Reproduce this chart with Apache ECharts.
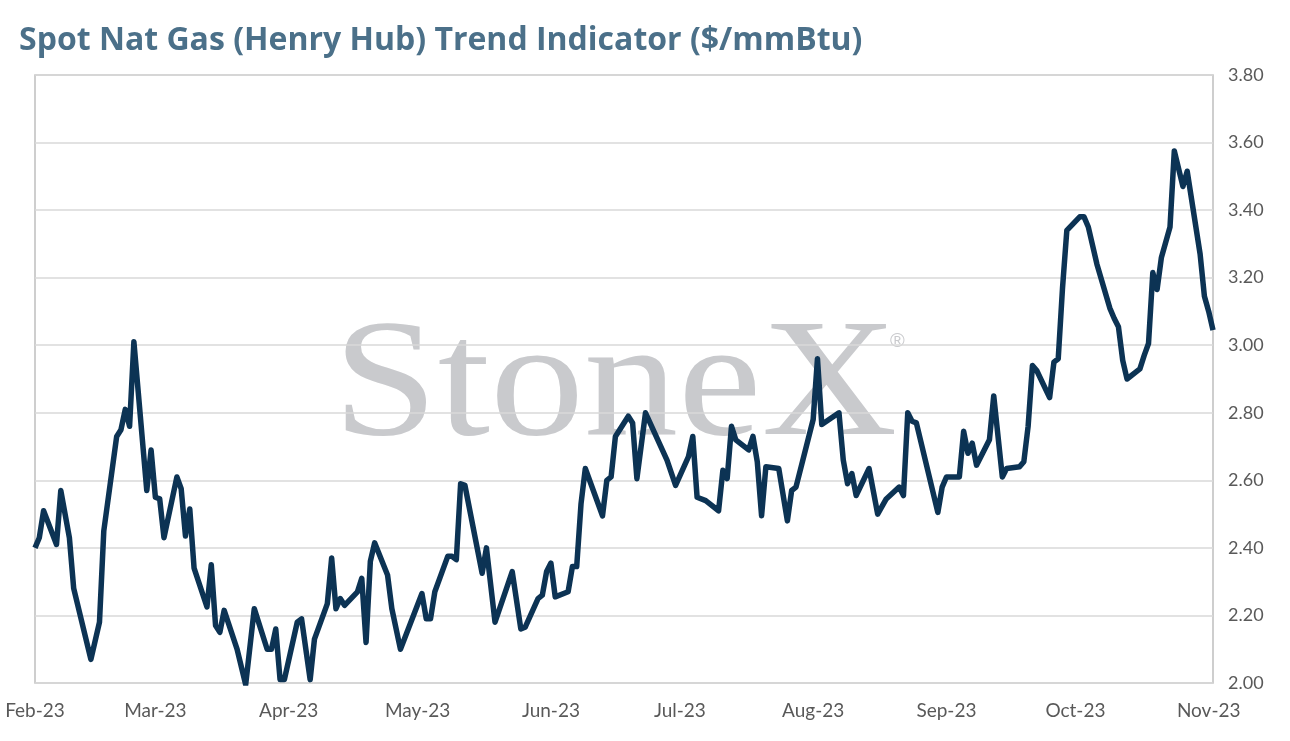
<!DOCTYPE html>
<html>
<head>
<meta charset="utf-8">
<script src="https://cdn.jsdelivr.net/npm/echarts@6/dist/echarts.min.js"></script>
<style>
    html, body { margin: 0; padding: 0; background: #ffffff; }
    #chart { width: 1290px; height: 741px; }
</style>
</head>
<body>
<div id="chart"></div>
<script>
// daily spot prices
const dates = [
    '2023-02-01', '2023-02-02', '2023-02-03', '2023-02-06', '2023-02-07', '2023-02-09', '2023-02-10', '2023-02-14',
    '2023-02-16', '2023-02-17', '2023-02-20', '2023-02-21', '2023-02-22', '2023-02-23', '2023-02-24', '2023-02-27',
    '2023-02-28', '2023-03-01', '2023-03-02', '2023-03-03', '2023-03-06', '2023-03-07', '2023-03-08', '2023-03-09',
    '2023-03-10', '2023-03-13', '2023-03-14', '2023-03-15', '2023-03-16', '2023-03-17', '2023-03-20', '2023-03-22',
    '2023-03-24', '2023-03-27', '2023-03-28', '2023-03-29', '2023-03-30', '2023-03-31', '2023-04-03', '2023-04-04',
    '2023-04-06', '2023-04-07', '2023-04-10', '2023-04-11', '2023-04-12', '2023-04-13', '2023-04-14', '2023-04-17',
    '2023-04-18', '2023-04-19', '2023-04-20', '2023-04-21', '2023-04-24', '2023-04-25', '2023-04-27', '2023-05-02',
    '2023-05-03', '2023-05-04', '2023-05-05', '2023-05-08', '2023-05-09', '2023-05-10', '2023-05-11', '2023-05-12',
    '2023-05-16', '2023-05-17', '2023-05-19', '2023-05-23', '2023-05-25', '2023-05-26', '2023-05-29', '2023-05-30',
    '2023-05-31', '2023-06-01', '2023-06-02', '2023-06-05', '2023-06-06', '2023-06-07', '2023-06-08', '2023-06-09',
    '2023-06-13', '2023-06-14', '2023-06-15', '2023-06-16', '2023-06-19', '2023-06-20', '2023-06-21', '2023-06-23',
    '2023-06-28', '2023-06-30', '2023-07-03', '2023-07-04', '2023-07-05', '2023-07-07', '2023-07-10', '2023-07-11',
    '2023-07-12', '2023-07-13', '2023-07-14', '2023-07-17', '2023-07-18', '2023-07-19', '2023-07-20', '2023-07-21',
    '2023-07-24', '2023-07-26', '2023-07-27', '2023-07-28', '2023-08-01', '2023-08-02', '2023-08-03', '2023-08-07',
    '2023-08-08', '2023-08-09', '2023-08-10', '2023-08-11', '2023-08-14', '2023-08-16', '2023-08-18', '2023-08-21',
    '2023-08-22', '2023-08-23', '2023-08-24', '2023-08-25', '2023-08-30', '2023-08-31', '2023-09-01', '2023-09-04',
    '2023-09-05', '2023-09-06', '2023-09-07', '2023-09-08', '2023-09-11', '2023-09-12', '2023-09-14', '2023-09-15',
    '2023-09-18', '2023-09-19', '2023-09-20', '2023-09-21', '2023-09-22', '2023-09-25', '2023-09-26', '2023-09-27',
    '2023-09-28', '2023-09-29', '2023-10-02', '2023-10-03', '2023-10-04', '2023-10-06', '2023-10-09', '2023-10-10',
    '2023-10-11', '2023-10-12', '2023-10-13', '2023-10-16', '2023-10-17', '2023-10-18', '2023-10-19', '2023-10-20',
    '2023-10-21', '2023-10-23', '2023-10-24', '2023-10-26', '2023-10-27', '2023-10-30', '2023-10-31', '2023-11-01',
    '2023-11-02'
];

const prices = [
    2.40, 2.43, 2.51, 2.41, 2.57, 2.43, 2.28, 2.07,
    2.18, 2.45, 2.73, 2.75, 2.81, 2.76, 3.01, 2.57,
    2.69, 2.55, 2.545, 2.43, 2.61, 2.575, 2.435, 2.515,
    2.34, 2.225, 2.35, 2.17, 2.15, 2.215, 2.10, 1.995,
    2.22, 2.10, 2.10, 2.16, 2.01, 2.01, 2.18, 2.19,
    2.01, 2.13, 2.235, 2.37, 2.22, 2.25, 2.23, 2.27,
    2.31, 2.12, 2.36, 2.415, 2.32, 2.22, 2.10, 2.265,
    2.19, 2.19, 2.27, 2.375, 2.375, 2.365, 2.59, 2.585,
    2.325, 2.40, 2.18, 2.33, 2.16, 2.165, 2.25, 2.26,
    2.33, 2.355, 2.255, 2.27, 2.345, 2.345, 2.53, 2.635,
    2.495, 2.60, 2.61, 2.73, 2.79, 2.77, 2.605, 2.80,
    2.66, 2.585, 2.67, 2.73, 2.55, 2.54, 2.51, 2.63,
    2.605, 2.76, 2.72, 2.69, 2.73, 2.655, 2.495, 2.64,
    2.635, 2.48, 2.57, 2.58, 2.78, 2.96, 2.765, 2.80,
    2.66, 2.59, 2.62, 2.555, 2.635, 2.50, 2.545, 2.58,
    2.555, 2.80, 2.775, 2.77, 2.505, 2.58, 2.61, 2.61,
    2.745, 2.68, 2.71, 2.645, 2.72, 2.85, 2.61, 2.635,
    2.64, 2.655, 2.76, 2.94, 2.925, 2.845, 2.95, 2.96,
    3.17, 3.34, 3.38, 3.38, 3.35, 3.24, 3.11, 3.08,
    3.055, 2.955, 2.90, 2.93, 2.97, 3.005, 3.215, 3.165,
    3.26, 3.35, 3.575, 3.47, 3.515, 3.27, 3.145, 3.10,
    3.045
];

const axisStart = '2023-02-01';
const axisEnd = '2023-11-02';
const monthNames = ['Jan', 'Feb', 'Mar', 'Apr', 'May', 'Jun', 'Jul', 'Aug', 'Sep', 'Oct', 'Nov', 'Dec'];

const chart = echarts.init(document.getElementById('chart'));

const seriesData = dates.map((d, i) => [d, prices[i]]);

chart.setOption({
    animation: false,
    backgroundColor: '#ffffff',
    title: {
        text: 'Spot Nat Gas (Henry Hub) Trend Indicator ($/mmBtu)',
        left: 14,
        top: 20,
        textStyle: {
            fontFamily: 'Open Sans',
            fontWeight: 'bold',
            fontSize: 32,
            color: '#4b7089'
        }
    },
    grid: {
        left: 35,
        right: 77,
        top: 75,
        bottom: 58,
        show: true,
        borderColor: '#bfbfbf',
        borderWidth: 1.5,
        backgroundColor: 'transparent'
    },
    graphic: [
        {
            type: 'text',
            z: -10,
            left: 333,
            top: 306,
            scaleX: 1.12,
            style: {
                text: 'StoneX',
                font: '168px "Liberation Serif"',
                fill: '#c9cacd'
            }
        },
        {
            type: 'text',
            z: -10,
            left: 890,
            top: 331,
            style: {
                text: '®',
                font: '20px "Liberation Sans"',
                fill: '#c9cacd'
            }
        }
    ],
    xAxis: {
        type: 'time',
        min: axisStart,
        max: axisEnd,
        splitNumber: 9,
        minInterval: 28 * 86400000,
        axisLine: { show: false },
        axisTick: { show: false },
        splitLine: { show: false },
        axisLabel: {
            margin: 18,
            fontFamily: 'Lato',
            fontSize: 19,
            color: '#595959',
            formatter: function (value) {
                const d = new Date(value);
                return monthNames[d.getMonth()] + '-' + String(d.getFullYear()).slice(2);
            }
        }
    },
    yAxis: {
        type: 'value',
        position: 'right',
        min: 2.0,
        max: 3.8,
        interval: 0.2,
        axisLine: { show: false },
        axisTick: { show: false },
        splitLine: { lineStyle: { color: '#d9d9d9', width: 1.5 } },
        axisLabel: {
            margin: 15,
            fontFamily: 'Lato',
            fontSize: 18,
            color: '#595959',
            formatter: v => v.toFixed(2)
        }
    },
    series: [
        {
            name: 'Henry Hub',
            type: 'line',
            data: seriesData,
            showSymbol: false,
            symbol: 'none',
            lineStyle: { color: '#0c3354', width: 5.5, join: 'round' },
            itemStyle: { color: '#0c3354' },
            z: 5
        }
    ]
});
</script>
</body>
</html>
